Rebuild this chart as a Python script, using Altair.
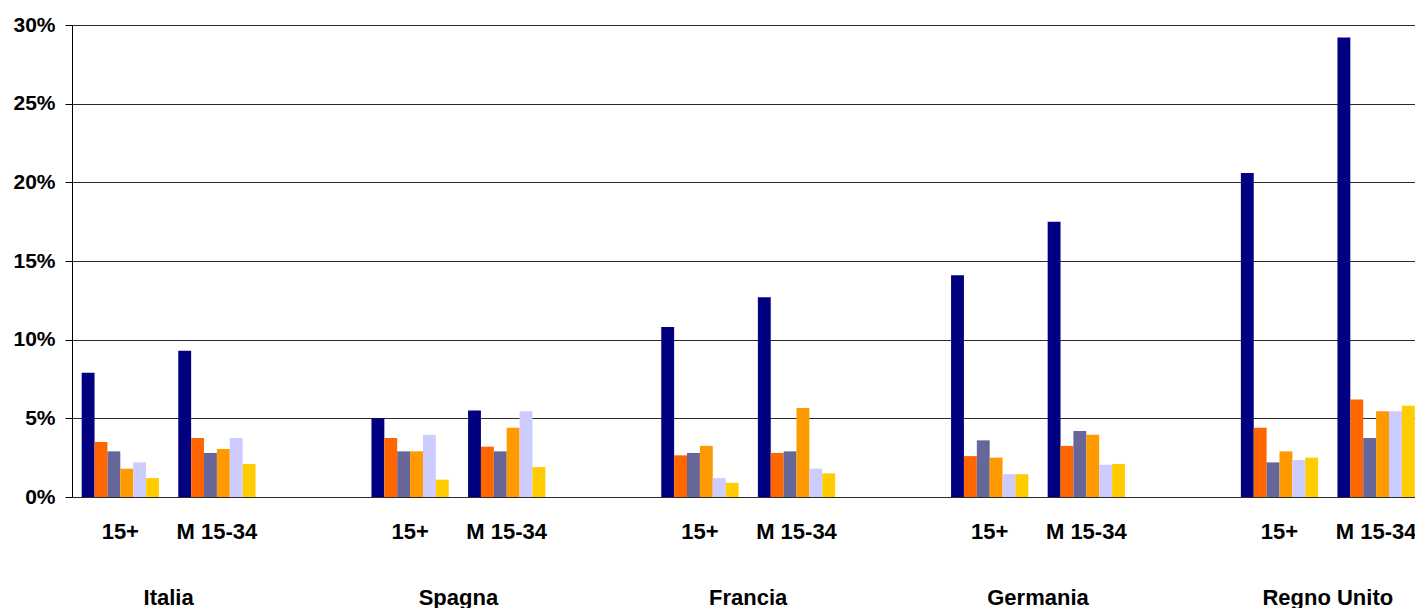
import altair as alt
import pandas as pd

# Categories
countries = ["Italia", "Spagna", "Francia", "Germania", "Regno Unito"]
groups = ["15+", "M 15-34"]
series = ["Serie 1", "Serie 2", "Serie 3", "Serie 4", "Serie 5", "Serie 6"]
colors = ["#000080", "#FF6600", "#666699", "#FF9900", "#CCCCFF", "#FFCC00"]

# Values (%) per country and group, one per series
italia_15 = [7.9, 3.5, 2.9, 1.8, 2.2, 1.2]
italia_m = [9.3, 3.75, 2.8, 3.05, 3.75, 2.1]
spagna_15 = [5.0, 3.75, 2.9, 2.9, 3.95, 1.1]
spagna_m = [5.5, 3.2, 2.9, 4.4, 5.45, 1.9]
francia_15 = [10.8, 2.65, 2.8, 3.25, 1.2, 0.9]
francia_m = [12.7, 2.8, 2.9, 5.65, 1.8, 1.5]
germania_15 = [14.1, 2.6, 3.6, 2.5, 1.45, 1.45]
germania_m = [17.5, 3.25, 4.2, 3.95, 2.05, 2.1]
ru_15 = [20.6, 4.4, 2.2, 2.9, 2.35, 2.5]
ru_m = [29.2, 6.2, 3.75, 5.45, 5.45, 5.8]

values = {
    ("Italia", "15+"): italia_15, ("Italia", "M 15-34"): italia_m,
    ("Spagna", "15+"): spagna_15, ("Spagna", "M 15-34"): spagna_m,
    ("Francia", "15+"): francia_15, ("Francia", "M 15-34"): francia_m,
    ("Germania", "15+"): germania_15, ("Germania", "M 15-34"): germania_m,
    ("Regno Unito", "15+"): ru_15, ("Regno Unito", "M 15-34"): ru_m,
}

rows = []
for (c, g), vals in values.items():
    for s, v in zip(series, vals):
        rows.append({"country": c, "group": g, "series": s, "value": v})
df = pd.DataFrame(rows)

# Three category slots per country: the two groups and an empty spacer
slot_keys = []
for c in countries:
    slot_keys += [c + "|" + g for g in groups] + [c + "|"]

labels_df = pd.DataFrame([{"country": c, "group": g} for c in countries for g in groups])
country_df = pd.DataFrame([{"country": c, "group": "M 15-34"} for c in countries])

SLOT = 96.6
FONT = "Liberation Sans"
x_scale = alt.Scale(domain=slot_keys, range=[0, SLOT * len(slot_keys)],
                    paddingInner=0, paddingOuter=0)

bars = alt.Chart(df).transform_calculate(
    slot="datum.country + '|' + datum.group"
).mark_bar(clip=True).encode(
    x=alt.X("slot:N", scale=x_scale, sort=slot_keys,
            axis=alt.Axis(labels=False, title=None, bandPosition=0, tickSize=7,
                          tickColor="#000", domainColor="#000", grid=False)),
    xOffset=alt.XOffset("series:N", sort=series,
                        scale=alt.Scale(domain=series, paddingInner=0, paddingOuter=0.75)),
    y=alt.Y("value:Q", scale=alt.Scale(domain=[0, 30], nice=False),
            axis=alt.Axis(values=[0, 5, 10, 15, 20, 25, 30], labelExpr="datum.value + '%'",
                          title=None, grid=True, gridColor="#2a2a2a", gridWidth=1.2,
                          tickSize=7, tickColor="#000", domainColor="#000",
                          labelFontSize=21, labelFontWeight="bold", labelFont=FONT,
                          labelColor="#000", labelPadding=10)),
    color=alt.Color("series:N", scale=alt.Scale(domain=series, range=colors), legend=None),
)

group_labels = alt.Chart(labels_df).transform_calculate(
    slot="datum.country + '|' + datum.group"
).mark_text(font=FONT, fontSize=22, fontWeight="bold", color="#000",
            baseline="alphabetic", align="center").encode(
    x=alt.X("slot:N", scale=x_scale, axis=None),
    y=alt.value(514),
    text="group:N",
)

country_labels = alt.Chart(country_df).transform_calculate(
    slot="datum.country + '|' + datum.group"
).mark_text(font=FONT, fontSize=22, fontWeight="bold", color="#000",
            baseline="alphabetic", align="center").encode(
    x=alt.X("slot:N", scale=x_scale, axis=None, bandPosition=0),
    y=alt.value(580),
    text="country:N",
)

chart = alt.layer(bars, group_labels, country_labels).properties(
    width=1343, height=472,
    autosize=alt.AutoSizeParams(type="none"),
    padding={"left": 72, "top": 25, "right": 0, "bottom": 111},
    background="white",
).configure_view(stroke=None)

chart.save("out.html", embed_options={"renderer": "svg", "actions": False})
